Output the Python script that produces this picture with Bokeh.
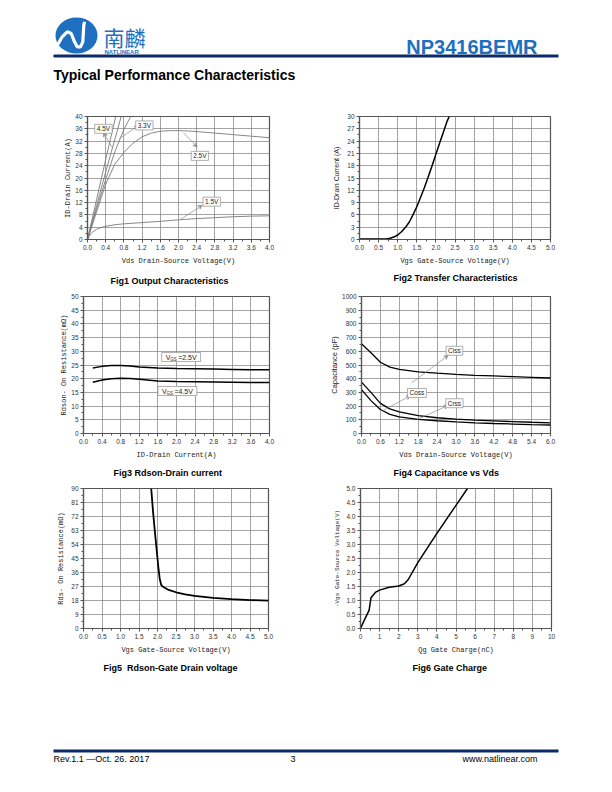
from bokeh.plotting import figure
from bokeh.layouts import column, row
from bokeh.models import Range1d, FixedTicker, NumeralTickFormatter, Label, Title, Arrow, VeeHead
from bokeh.embed import file_html
from bokeh.resources import INLINE
from bokeh.core.properties import value

# ---------------- data ----------------
# Fig1 Output Characteristics: Vds (V) vs Id (A) for several Vgs
f1_vds_a = [0.0, 0.2, 0.4, 0.62]
f1_id_a = [0.0, 13.0, 26.0, 40.0]
f1_vds_45 = [0.0, 0.2, 0.4, 0.6, 0.74]
f1_id_45 = [0.0, 11.0, 22.0, 32.5, 40.0]
f1_vds_33 = [0.0, 0.2, 0.4, 0.6, 0.8, 0.95]
f1_id_33 = [0.0, 10.0, 19.5, 28.5, 35.8, 40.0]
f1_vds_25 = [0.0, 0.2, 0.4, 0.6, 0.8, 1.0, 1.2, 1.4, 1.6, 1.8, 2.0, 2.2, 2.4, 2.8, 3.2, 3.6, 4.0]
f1_id_25 = [0.0, 9.0, 18.0, 24.5, 28.3, 31.3, 33.4, 34.6, 35.2, 35.4, 35.4, 35.3, 35.1, 34.6, 34.1, 33.6, 33.1]
f1_vds_15 = [0.0, 0.05, 0.1, 0.2, 0.3, 0.4, 0.6, 0.8, 1.2, 1.6, 2.0, 2.4, 2.8, 3.2, 3.6, 4.0]
f1_id_15 = [0.0, 1.3, 2.3, 3.3, 3.9, 4.3, 4.8, 5.1, 5.5, 5.9, 6.4, 6.8, 7.1, 7.4, 7.6, 7.7]
f1_xticks = [0.0, 0.4, 0.8, 1.2, 1.6, 2.0, 2.4, 2.8, 3.2, 3.6, 4.0]
f1_yticks = [0, 4, 8, 12, 16, 20, 24, 28, 32, 36, 40]
f1_labels = ["4.5V", "3.3V", "2.5V", "1.5V"]

# Fig2 Transfer Characteristics: Vgs (V) vs Id (A)
f2_vgs = [0.0, 0.5, 0.7, 0.8, 0.9, 1.0, 1.1, 1.2, 1.3, 1.4, 1.5, 1.6, 1.7, 1.8, 1.9, 2.0, 2.1, 2.2, 2.3, 2.35]
f2_id = [0.1, 0.1, 0.15, 0.3, 0.6, 1.1, 1.9, 2.9, 4.2, 6.0, 8.0, 10.3, 12.7, 15.3, 18.0, 20.8, 23.6, 26.3, 29.0, 30.0]
f2_xticks = [0.0, 0.5, 1.0, 1.5, 2.0, 2.5, 3.0, 3.5, 4.0, 4.5, 5.0]
f2_yticks = [0, 3, 6, 9, 12, 15, 18, 21, 24, 27, 30]

# Fig3 Rdson vs Drain current
f3_id = [0.2, 0.4, 0.6, 0.8, 1.0, 1.2, 1.6, 2.0, 2.4, 2.8, 3.2, 3.6, 4.0]
f3_r_25 = [23.9, 24.5, 24.8, 24.8, 24.6, 24.3, 23.9, 23.7, 23.6, 23.5, 23.4, 23.3, 23.3]
f3_r_45 = [18.7, 19.5, 20.0, 20.2, 20.1, 19.8, 19.2, 19.0, 18.9, 18.8, 18.7, 18.6, 18.6]
f3_xticks = [0.0, 0.4, 0.8, 1.2, 1.6, 2.0, 2.4, 2.8, 3.2, 3.6, 4.0]
f3_yticks = [0, 5, 10, 15, 20, 25, 30, 35, 40, 45, 50]

# Fig4 Capacitance vs Vds
f4_vds = [0.0, 0.3, 0.6, 0.9, 1.2, 1.8, 2.4, 3.0, 3.6, 4.2, 4.8, 5.4, 6.0]
f4_ciss = [655, 590, 520, 485, 468, 450, 440, 432, 425, 420, 415, 410, 405]
f4_coss = [375, 300, 220, 180, 158, 130, 115, 105, 97, 92, 87, 82, 78]
f4_crss = [320, 240, 175, 140, 122, 103, 93, 85, 78, 73, 69, 65, 62]
f4_xticks = [0.0, 0.6, 1.2, 1.8, 2.4, 3.0, 3.6, 4.2, 4.8, 5.4, 6.0]
f4_yticks = [0, 100, 200, 300, 400, 500, 600, 700, 800, 900, 1000]

# Fig5 Rdson vs Vgs
f5_vgs = [1.83, 1.88, 1.93, 1.98, 2.02, 2.06, 2.10, 2.15, 2.3, 2.5, 2.75, 3.0, 3.5, 4.0, 4.5, 5.0]
f5_r = [90, 75, 62, 50, 40, 32, 28, 26.8, 24.8, 23.3, 22.0, 21.0, 19.7, 18.9, 18.3, 17.9]
f5_xticks = [0.0, 0.5, 1.0, 1.5, 2.0, 2.5, 3.0, 3.5, 4.0, 4.5, 5.0]
f5_yticks = [0, 9, 18, 27, 36, 45, 54, 63, 72, 81, 90]

# Fig6 Gate charge
f6_qg = [0.0, 0.2, 0.45, 0.55, 0.8, 1.0, 1.5, 2.0, 2.3, 2.5, 3.0, 4.0, 5.0, 5.6]
f6_vgs = [0.0, 0.3, 0.65, 1.1, 1.3, 1.37, 1.47, 1.52, 1.6, 1.75, 2.35, 3.4, 4.4, 5.0]
f6_xticks = [0, 1, 2, 3, 4, 5, 6, 7, 8, 9, 10]
f6_yticks = [0.0, 0.5, 1.0, 1.5, 2.0, 2.5, 3.0, 3.5, 4.0, 4.5, 5.0]

# ---------------- styling helpers ----------------
SANS = "Liberation Sans"
MONO = "Liberation Mono"
NB = "\u00a0"


def minors(t):
    return [(a + b) / 2 for a, b in zip(t[:-1], t[1:])]


def chart(xr, yr, ml, mr, mt, mb, h, xticks, yticks, xfmt, yfmt, xlabel, ylabel,
          caption, cap_offset, cap_standoff, ylabel_font=MONO, ylabel_size="7px", ylabel_standoff=4):
    p = figure(width=306, height=h, x_range=Range1d(*xr), y_range=Range1d(*yr),
               min_border_left=ml, min_border_right=mr, min_border_top=mt, min_border_bottom=mb,
               output_backend="svg", toolbar_location=None, tools="")
    p.outline_line_color = "#555555"
    p.outline_line_width = 1.2
    p.background_fill_color = "white"
    p.border_fill_color = "white"
    p.grid.grid_line_color = "#7d7d7d"
    p.grid.grid_line_width = 0.7
    p.xaxis.ticker = FixedTicker(ticks=xticks, minor_ticks=minors(xticks))
    p.yaxis.ticker = FixedTicker(ticks=yticks, minor_ticks=minors(yticks))
    p.xaxis.formatter = NumeralTickFormatter(format=xfmt)
    p.yaxis.formatter = NumeralTickFormatter(format=yfmt)
    for ax in (p.xaxis[0], p.yaxis[0]):
        ax.axis_line_color = "#555555"
        ax.axis_line_width = 1.2
        ax.major_tick_line_color = "#555555"
        ax.minor_tick_line_color = "#555555"
        ax.major_tick_in = 0
        ax.major_tick_out = 3
        ax.minor_tick_in = 0
        ax.minor_tick_out = 2
        ax.major_label_text_font = SANS
        ax.major_label_text_font_size = "6.5px"
        ax.major_label_text_color = "#333333"
        ax.major_label_standoff = 2
        ax.axis_label_text_font_style = "normal"
        ax.axis_label_text_color = "#222222"
    p.xaxis.axis_label = xlabel
    p.xaxis.axis_label_text_font = MONO
    p.xaxis.axis_label_text_font_size = "7px"
    p.xaxis.axis_label_standoff = 4
    p.yaxis.axis_label = ylabel
    p.yaxis.axis_label_text_font = ylabel_font
    p.yaxis.axis_label_text_font_size = ylabel_size
    p.yaxis.axis_label_standoff = ylabel_standoff
    t = Title(text=caption, align="left", offset=cap_offset, standoff=cap_standoff,
              text_font=SANS, text_font_size="9px", text_font_style="bold", text_color="black")
    p.add_layout(t, "below")
    return p


def tag(p, x, y, text, size="6.5px", pad=(2, 1)):
    p.add_layout(Label(x=x, y=y, text=text, text_font=SANS, text_font_size=size,
                       text_color="#222222", text_align="center", text_baseline="middle",
                       border_line_color="#9a9a9a", border_line_width=0.8,
                       background_fill_color="white", padding=pad))


def leader(p, x0, y0, x1, y1):
    p.add_layout(Arrow(x_start=x0, y_start=y0, x_end=x1, y_end=y1,
                       line_color="#8a8a8a", line_width=0.7,
                       end=VeeHead(size=4, line_color="#8a8a8a", line_width=0.7, fill_color="#8a8a8a")))


# ---------------- Fig1 ----------------
f1 = chart((0, 4), (0, 40), 87, 37, 16, 46, 192, f1_xticks, f1_yticks, "0.0", "0",
           "Vds Drain-Source Voltage(V)", "ID-Drain Current(A)",
           "Fig1 Output Characteristics", 23, 13, ylabel_standoff=0)
for xs, ys in ((f1_vds_a, f1_id_a), (f1_vds_45, f1_id_45), (f1_vds_33, f1_id_33),
               (f1_vds_25, f1_id_25), (f1_vds_15, f1_id_15)):
    f1.line(xs, ys, line_color="#7a7a7a", line_width=0.9)
leader(f1, 0.55, 29.8, 0.35, 34.7)
leader(f1, 0.70, 32.8, 1.12, 37.0)
leader(f1, 2.11, 34.7, 2.41, 30.1)
leader(f1, 2.04, 6.5, 2.52, 11.1)
tag(f1, 0.35, 36.0, f1_labels[0])
tag(f1, 1.25, 37.1, f1_labels[1])
tag(f1, 2.47, 27.2, f1_labels[2])
tag(f1, 2.73, 12.3, f1_labels[3])

# ---------------- Fig2 ----------------
f2 = chart((0, 5), (0, 30), 53, 62, 16, 46, 192, f2_xticks, f2_yticks, "0.0", "0",
           "Vgs Gate-Source Voltage(V)", "ID-Drain Current (A)",
           "Fig2 Transfer Characteristics", 34, 6, ylabel_font=SANS, ylabel_size="7px", ylabel_standoff=4)
f2.line(f2_vgs, f2_id, line_color="black", line_width=1.5)

# ---------------- Fig3 ----------------
f3 = chart((0, 4), (0, 50), 83, 37, 4, 46, 190, f3_xticks, f3_yticks, "0.0", "0",
           "ID-Drain Current(A)", "Rdson- On Resistance(mΩ)",
           "Fig3 Rdson-Drain current", 30, 9, ylabel_standoff=0)
f3.line(f3_id, f3_r_25, line_color="black", line_width=1.5)
f3.line(f3_id, f3_r_45, line_color="black", line_width=1.5)
for yy, txt in ((27.9, "=2.5V"), (15.5, "=4.5V")):
    xx = 2.1 if yy > 20 else 2.02
    tag(f3, xx, yy, "V" + NB * 4 + txt, size="7px", pad=(4, 1))
    f3.add_layout(Label(x=xx, y=yy, x_offset=-11, y_offset=-2, text="GS", text_font=SANS,
                        text_font_size="4.5px", text_color="#222222", text_baseline="middle"))

# ---------------- Fig4 ----------------
f4 = chart((0, 6), (0, 1000), 55, 62, 4, 46, 190, f4_xticks, f4_yticks, "0.0", "0",
           "Vds Drain-Source Voltage(V)", "Capacitance (pF)",
           "Fig4 Capacitance vs Vds", 32, 9, ylabel_font=SANS, ylabel_size="7.5px", ylabel_standoff=0)
f4.line(f4_vds, f4_ciss, line_color="black", line_width=1.3)
f4.line(f4_vds, f4_coss, line_color="black", line_width=1.3)
f4.line(f4_vds, f4_crss, line_color="black", line_width=1.3)
leader(f4, 1.6, 370, 2.75, 570)
leader(f4, 0.66, 165, 1.55, 275)
leader(f4, 1.77, 102, 2.75, 205)
tag(f4, 2.95, 604, "Ciss")
tag(f4, 1.76, 296, "Coss")
tag(f4, 2.95, 221, "Crss")

# ---------------- Fig5 ----------------
f5 = chart((0, 5), (0, 90), 83, 38, 6, 47, 194, f5_xticks, f5_yticks, "0.0", "0",
           "Vgs Gate-Source Voltage(V)", "Rds- On Resistance(mΩ)",
           "Fig5" + NB + NB + "Rdson-Gate Drain voltage", 20, 8, ylabel_standoff=3)
f5.line(f5_vgs, f5_r, line_color="black", line_width=1.8)

# ---------------- Fig6 ----------------
f6 = chart((0, 10), (0, 5), 54, 61, 6, 47, 194, f6_xticks, f6_yticks, "0", "0.0",
           "Qg Gate Charge(nC)", "-Vgs Gate-Source Voltage(V)",
           "Fig6 Gate Charge", 52, 8, ylabel_size="6px", ylabel_standoff=2)
f6.line(f6_qg, f6_vgs, line_color="black", line_width=1.5)


# ---------------- header / footer ----------------
def deco(h, y0):
    p = figure(width=612, height=h, x_range=Range1d(0, 612), y_range=Range1d(y0 + h, y0),
               min_border=0, output_backend="svg", toolbar_location=None, tools="",
               x_axis_location=None, y_axis_location=None)
    p.outline_line_color = None
    p.grid.visible = False
    return p


NAVY = "#0c2a66"
BLUE = "#1f6fc0"

hdr = deco(100, 0)
hdr.ellipse(x=76, y=35, width=42, height=36, fill_color=BLUE, line_color=None)
hdr.line(x=[57.3, 61.7, 66.7, 70.7, 74, 76.7, 80, 82.3, 83.3, 84],
         y=[44, 36.3, 31.3, 33, 41.3, 46.3, 46.3, 41.3, 24.7, 21.3],
         line_color="white", line_width=3.2)
hdr.text(x=[103], y=[36], text=["南麟"], text_font=value("Noto Sans CJK SC"),
         text_font_size="21px", text_color=BLUE, text_baseline="middle")
hdr.text(x=[104], y=[51.5], text=["NATLINEAR"], text_font=value(SANS), text_font_style="bold",
         text_font_size="6px", text_color=BLUE, text_baseline="middle")
hdr.text(x=[537], y=[46], text=["NP3416BEMR"], text_font=value(SANS), text_font_style="bold",
         text_font_size="20px", text_color=BLUE, text_align="right", text_baseline="middle")
hdr.line(x=[53, 558], y=[55.5, 55.5], line_color=NAVY, line_width=2.8)
hdr.text(x=[53], y=[74.5], text=["Typical Performance Characteristics"], text_font=value(SANS),
         text_font_style="bold", text_font_size="14px", text_color="black", text_baseline="middle")

ftr = deco(112, 676)
ftr.line(x=[53, 558], y=[750.5, 750.5], line_color=NAVY, line_width=3)
ftr.text(x=[53], y=[758], text=["Rev.1.1 —Oct. 26. 2017"], text_font=value(SANS),
         text_font_size="9px", text_color="black", text_baseline="middle")
ftr.text(x=[290], y=[758], text=["3"], text_font=value(SANS),
         text_font_size="9px", text_color="black", text_baseline="middle")
ftr.text(x=[537], y=[758], text=["www.natlinear.com"], text_font=value(SANS),
         text_font_size="9px", text_color="black", text_align="right", text_baseline="middle")

layout = column(hdr, row(f1, f2), row(f3, f4), row(f5, f6), ftr)
open("out.html", "w").write(file_html(layout, INLINE))
